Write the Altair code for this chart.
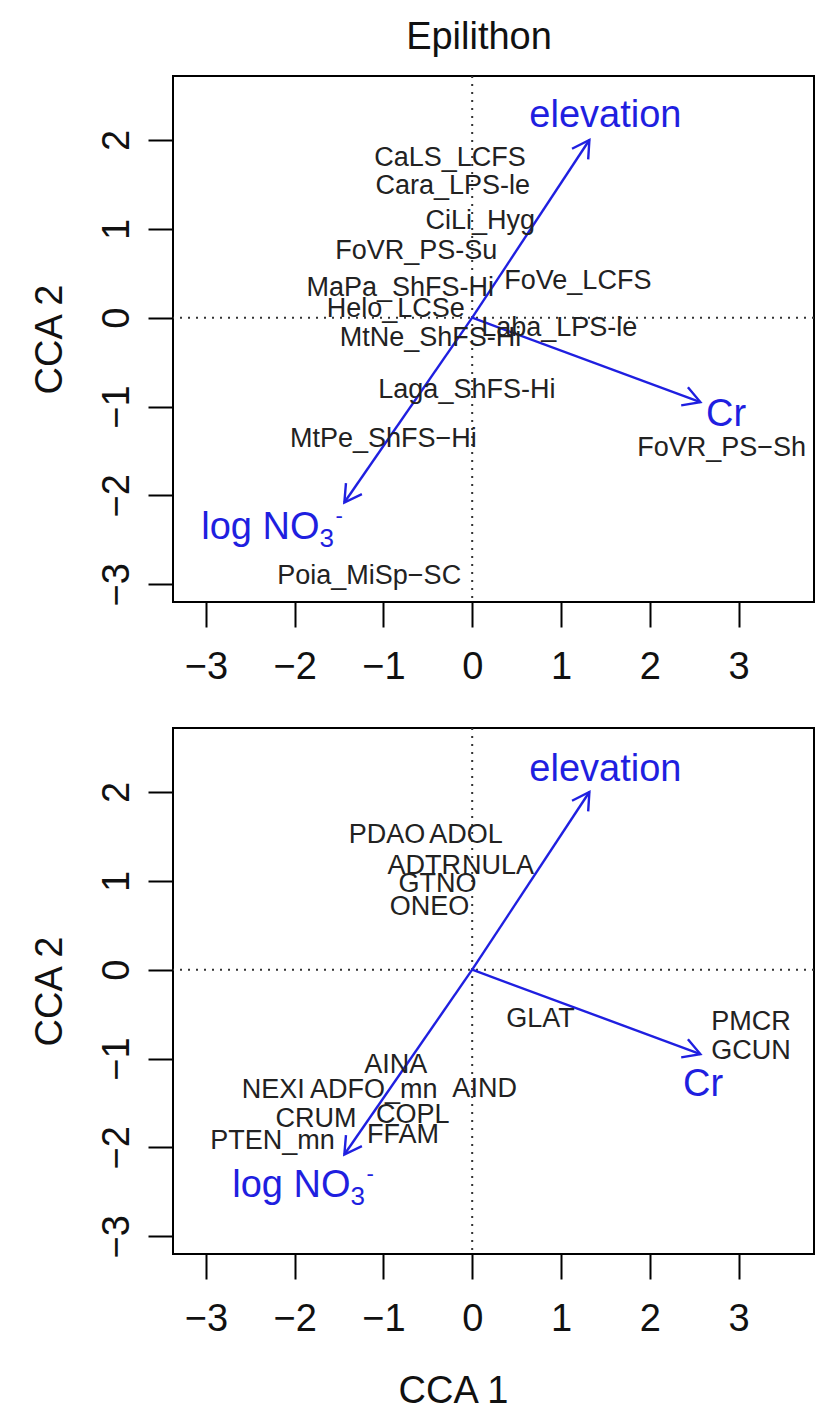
import math
import altair as alt
import pandas as pd

# ---------------- data ----------------
x_ticks = [-3, -2, -1, 0, 1, 2, 3]
y_ticks = [-3, -2, -1, 0, 1, 2]
x_domain = [-3.37, 3.85]
y_domain = [-3.20, 2.72]

# environmental biplot arrows (same in both panels)
env_names = ["elevation", "Cr", "log NO3"]
env_x = [1.32, 2.57, -1.44]
env_y = [2.00, -0.95, -2.08]

# arrow label anchors, top panel / bottom panel
top_env_label_x = [1.50, 2.86, -1.72]
top_env_label_y = [2.27, -1.09, -2.37]
bot_env_label_x = [1.50, 2.60, -1.37]
bot_env_label_y = [2.25, -1.30, -2.44]

# top panel: species traits
top_names = ["CaLS_LCFS", "Cara_LPS-le", "CiLi_Hyg", "FoVR_PS-Su", "MaPa_ShFS-Hi",
             "FoVe_LCFS", "Helo_LCSe", "Laba_LPS-le", "MtNe_ShFS-Hi", "Laga_ShFS-Hi",
             "MtPe_ShFS\u2212Hi", "FoVR_PS\u2212Sh", "Poia_MiSp\u2212SC"]
top_x = [-0.25, -0.22, 0.09, -0.63, -0.81, 1.19, -0.86, 0.98, -0.47, -0.06, -1.00, 2.81, -1.16]
top_y = [1.80, 1.48, 1.09, 0.75, 0.33, 0.41, 0.10, -0.12, -0.23, -0.81, -1.36, -1.47, -2.91]

# bottom panel: species
bot_names = ["PDAO", "ADOL", "ADTR", "NULA", "GTNO", "ONEO", "GLAT", "PMCR", "GCUN",
             "AINA", "NEXI", "ADFO_mn", "AIND", "CRUM", "COPL", "FFAM", "PTEN_mn"]
bot_x = [-0.96, -0.07, -0.54, 0.29, -0.39, -0.48, 0.77, 3.14, 3.14,
         -0.86, -2.24, -1.11, 0.14, -1.76, -0.67, -0.78, -2.25]
bot_y = [1.52, 1.52, 1.17, 1.17, 0.96, 0.71, -0.56, -0.59, -0.92,
         -1.07, -1.35, -1.35, -1.34, -1.68, -1.63, -1.86, -1.93]

# ---------------- style ----------------
W, H = 641, 526
FONT = "Liberation Sans"
BLUE = "#1f1fe0"
INK = "#222222"

sx = W / (x_domain[1] - x_domain[0])
sy = H / (y_domain[1] - y_domain[0])
angles = [math.degrees(math.atan2(dx * sx, dy * sy)) % 360 for dx, dy in zip(env_x, env_y)]

env_df = pd.DataFrame({"name": env_names, "x0": [0, 0, 0], "y0": [0, 0, 0],
                       "x": env_x, "y": env_y, "angle": angles})

xs = alt.Scale(domain=x_domain, nice=False, zero=False)
ys = alt.Scale(domain=y_domain, nice=False, zero=False)


def x_axis(title):
    kw = dict(values=x_ticks, tickSize=25, tickWidth=2, tickColor="black", domain=False,
              grid=False, labelFontSize=38, labelFont=FONT, labelColor="#111",
              labelPadding=21, labelFlush=False, labelOverlap=False, format="d")
    if title:
        kw.update(title=title, titleFontSize=38, titleFont=FONT, titleFontWeight="normal",
                  titleColor="#111", titleX=280, titleY=148, titleBaseline="alphabetic",
                  titleAlign="center")
    else:
        kw.update(title=None)
    return alt.Axis(**kw)


y_axis = alt.Axis(values=y_ticks, tickSize=25, tickWidth=2, tickColor="black", domain=False,
                  grid=False, labelFontSize=38, labelFont=FONT, labelColor="#111",
                  labelAngle=270, labelAlign="center", labelBaseline="alphabetic",
                  labelPadding=20, labelFlush=False, labelOverlap=False, format="d",
                  title="CCA 2", titleFontSize=38, titleFont=FONT, titleFontWeight="normal",
                  titleColor="#111", titleAngle=270, titleX=-112, titleY=H / 2,
                  titleBaseline="alphabetic", titleAlign="center")


def panel(names, xv, yv, lab_x, lab_y, xtitle):
    sp = pd.DataFrame({"name": names, "x": xv, "y": yv})
    lab = pd.DataFrame({"name": ["elevation", "Cr", "log NO"], "x": lab_x, "y": lab_y})

    base = alt.Chart(env_df)
    hline = alt.Chart(pd.DataFrame({"v": [0]})).mark_rule(
        color="#333", strokeWidth=2, strokeDash=[2, 6]).encode(
        y=alt.Y("v:Q", scale=ys, axis=y_axis))
    vline = alt.Chart(pd.DataFrame({"v": [0]})).mark_rule(
        color="#333", strokeWidth=2, strokeDash=[2, 6]).encode(
        x=alt.X("v:Q", scale=xs, axis=x_axis(xtitle)))

    species = alt.Chart(sp).mark_text(font=FONT, fontSize=27, color=INK).encode(
        x=alt.X("x:Q", scale=xs), y=alt.Y("y:Q", scale=ys), text="name:N")

    shafts = base.mark_rule(color=BLUE, strokeWidth=2.4).encode(
        x=alt.X("x0:Q", scale=xs), y=alt.Y("y0:Q", scale=ys), x2="x:Q", y2="y:Q")
    heads = base.mark_point(shape="M-0.5,0.87L0,0L0.5,0.87", filled=False, color=BLUE,
                            strokeWidth=2.4, size=1500, opacity=1).encode(
        x=alt.X("x:Q", scale=xs), y=alt.Y("y:Q", scale=ys), angle=alt.Angle("angle:Q", scale=None))

    centered = alt.Chart(lab[lab["name"] != "log NO"]).mark_text(
        font=FONT, fontSize=38, color=BLUE).encode(
        x=alt.X("x:Q", scale=xs), y=alt.Y("y:Q", scale=ys), text="name:N")
    no_df = lab[lab["name"] == "log NO"]
    logno = alt.Chart(no_df).mark_text(font=FONT, fontSize=38, color=BLUE, align="right").encode(
        x=alt.X("x:Q", scale=xs), y=alt.Y("y:Q", scale=ys), text="name:N")
    sub3 = alt.Chart(no_df).mark_text(font=FONT, fontSize=26, color=BLUE, align="left",
                                      dx=0, dy=11).encode(
        x=alt.X("x:Q", scale=xs), y=alt.Y("y:Q", scale=ys), text=alt.value("3"))
    supm = alt.Chart(no_df).mark_text(font=FONT, fontSize=22, color=BLUE, align="left",
                                      dx=16, dy=-12).encode(
        x=alt.X("x:Q", scale=xs), y=alt.Y("y:Q", scale=ys), text=alt.value("-"))

    return alt.layer(vline, hline, shafts, heads, species, centered, logno, sub3, supm).properties(
        width=W, height=H)


top = panel(top_names, top_x, top_y, top_env_label_x, top_env_label_y, None)
bottom = panel(bot_names, bot_x, bot_y, bot_env_label_x, bot_env_label_y, "CCA 1")

chart = alt.vconcat(top, bottom, spacing=126, bounds="flush").properties(
    title=alt.TitleParams("Epilithon", fontSize=38, font=FONT, fontWeight="normal",
                          color="#111", anchor="middle", frame="bounds", dx=56, offset=-13,
                          baseline="alphabetic"),
    padding={"left": 30, "top": 19, "right": 5, "bottom": 0},
).configure(background="white").configure_view(stroke="black", strokeWidth=2)

chart.save("out.html", embed_options={"renderer": "svg", "actions": False})
